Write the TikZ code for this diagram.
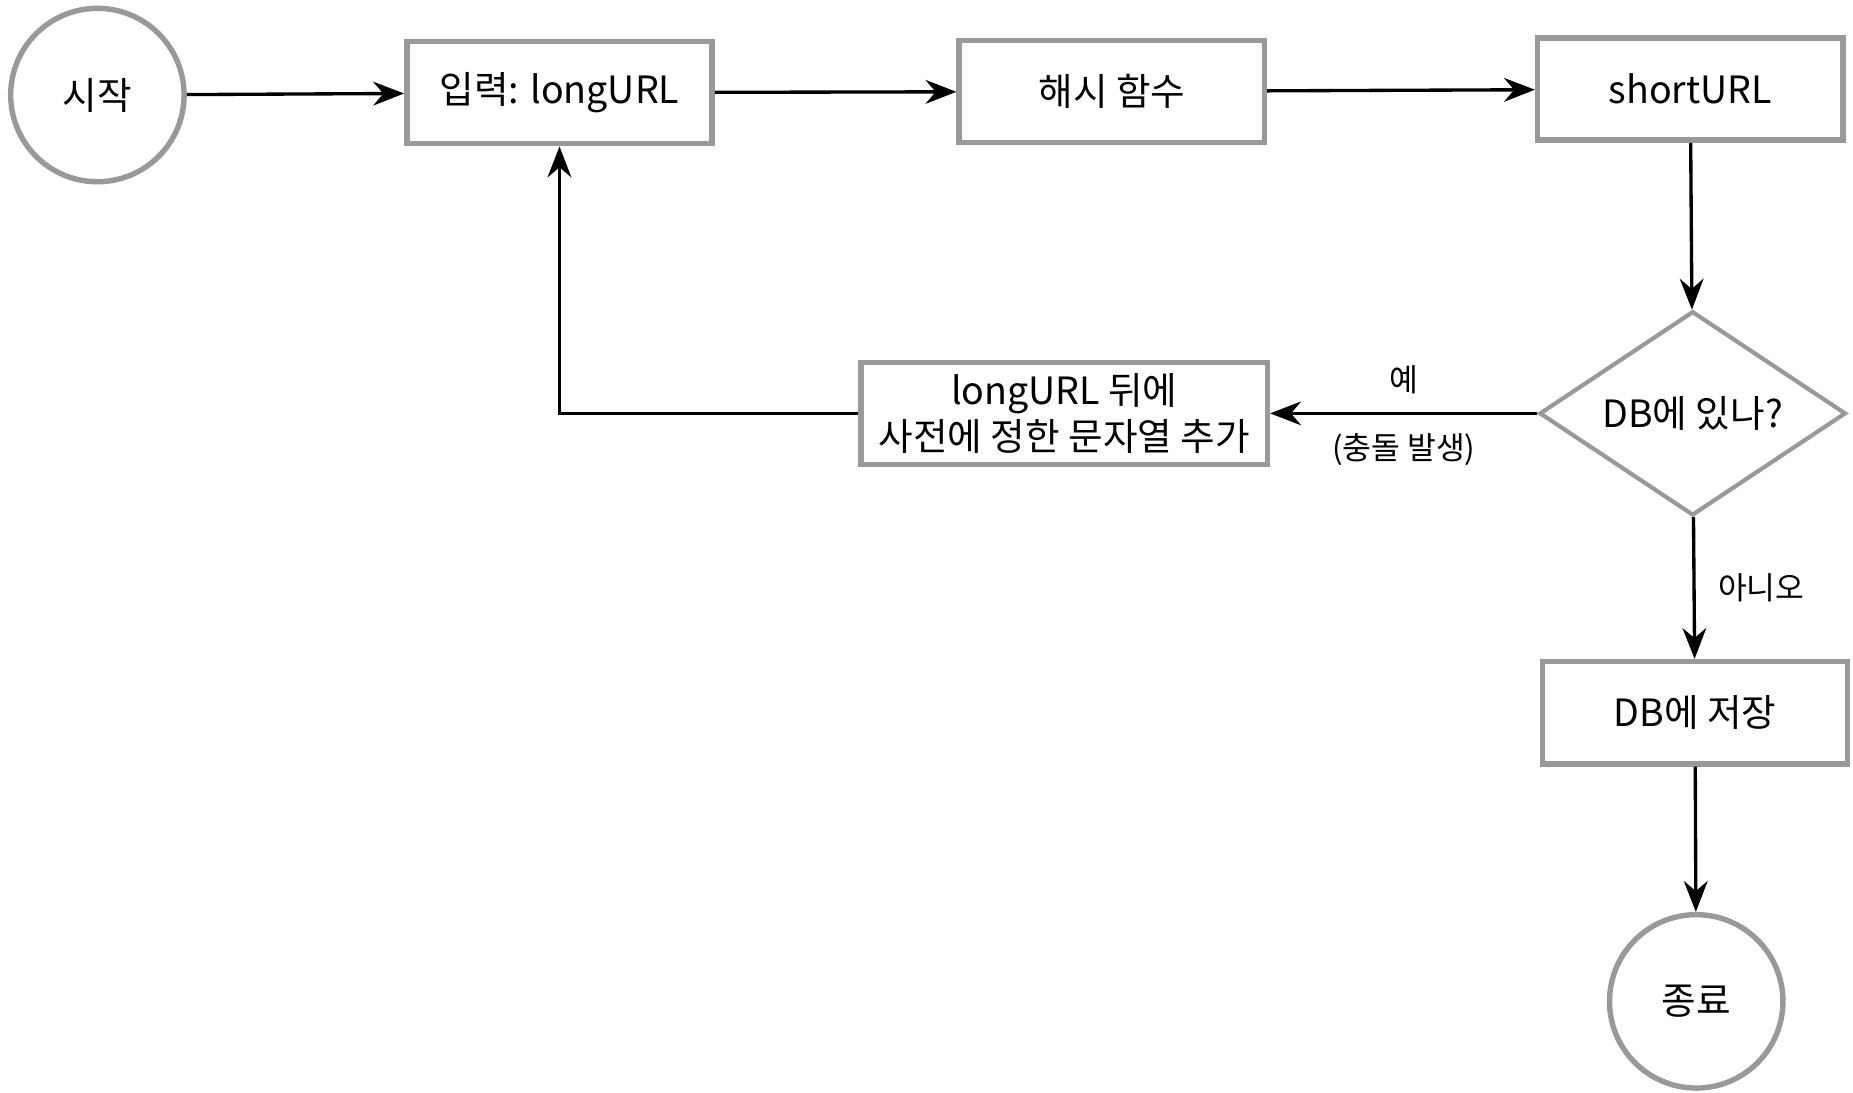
\documentclass[tikz,border=0pt]{standalone}
\usepackage{fontspec}
\setmainfont{Noto Sans CJK KR}
\usetikzlibrary{shapes.geometric,arrows.meta,positioning}
\tikzset{%
	terminal/.style = {draw=gray!80, line width=1.3pt, circle, minimum size=1.46cm, inner sep=0pt, font=\fontsize{9pt}{11pt}\selectfont},
	process/.style  = {draw=gray!80, line width=1.3pt, rectangle, minimum width=2.57cm, minimum height=0.86cm, align=center, font=\fontsize{9pt}{11pt}\selectfont},
	decision/.style = {draw=gray!80, line width=1pt, diamond, minimum width=2.58cm, minimum height=1.72cm, inner sep=0pt, shape aspect=1.5, font=\fontsize{9pt}{11pt}\selectfont},
	lbl/.style      = {font=\fontsize{7.5pt}{9pt}\selectfont},
	arrow/.style    = {line width=0.8pt, -{Stealth[length=2.6mm,width=2mm]}},
}
\begin{document}
\begin{tikzpicture}
	\useasboundingbox (0,0) rectangle (15.6,-9.2);
	\node [terminal] (start) at (0.82,-0.80) {시작};
	\node [process] (input) at (4.71,-0.78) {입력: longURL};
	\node [process] (hash) at (9.36,-0.77) {해시 함수};
	\node [process] (short) at (14.23,-0.75) {shortURL};
	\node [decision] (check) at (14.25,-3.48) {DB에 있나?};
	\node [process, minimum width=3.42cm, inner sep=1pt] (append) at (8.96,-3.48) {longURL 뒤에\\사전에 정한 문자열 추가};
	\node [process] (save) at (14.27,-6.00) {DB에 저장};
	\node [terminal] (stop) at (14.28,-8.43) {종료};

	\draw[arrow] (start) -- (input);
	\draw[arrow] (input) -- (hash);
	\draw[arrow] (hash) -- (short);
	\draw[arrow] (short) -- (check);
	\draw[arrow] (check) -- node[lbl, above=1pt] {예} node[lbl, below=1pt] {(충돌 발생)} (append);
	\draw[arrow] (append) -| (input);
	\draw[arrow] (check) -- node[lbl, right=2pt] {아니오} (save);
	\draw[arrow] (save) -- (stop);
\end{tikzpicture}
\end{document}
